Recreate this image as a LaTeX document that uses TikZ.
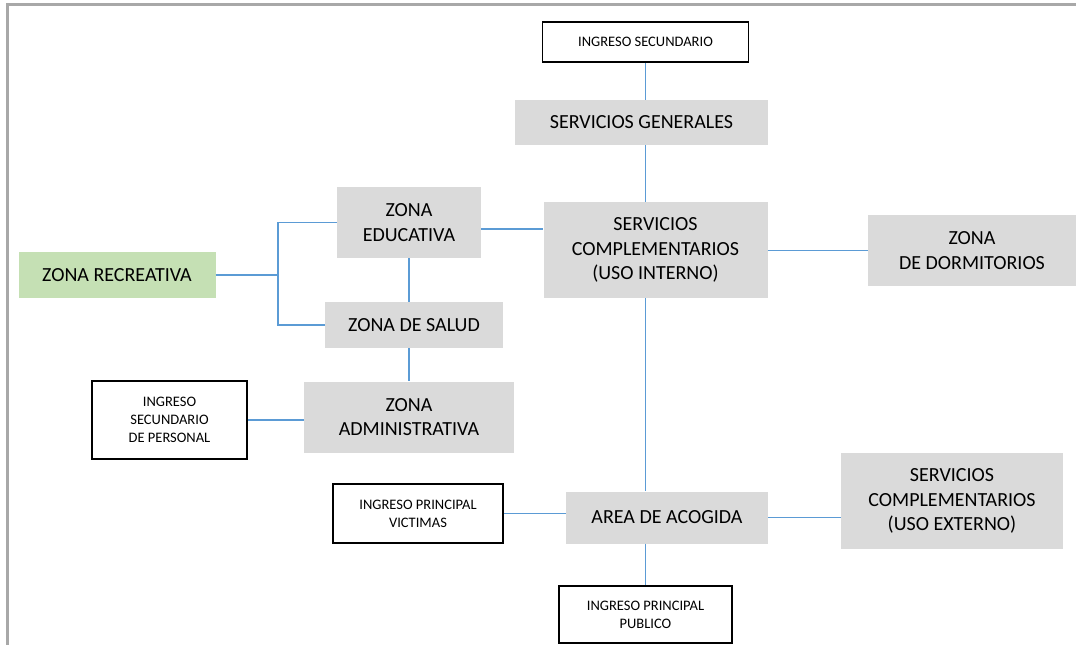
\documentclass[tikz,border=0pt]{standalone}
\usepackage{fontspec}
\setmainfont{Carlito}
\usetikzlibrary{calc}

\definecolor{gris}{HTML}{DADADA}
\definecolor{verde}{HTML}{C5E0B4}
\definecolor{azul}{HTML}{5B9BD5}
\definecolor{borde}{HTML}{A8A8A8}

\tikzset{
    zona/.style={fill=gris, inner sep=0pt, align=center,
        font=\fontsize{20}{24.4}\selectfont},
    ingreso/.style={draw=black, line width=1.8pt, fill=white, inner sep=0pt,
        align=center, font=\fontsize{14.5}{17.7}\selectfont},
    enlace/.style={draw=azul, line width=1.3pt}
}

\begin{document}
\begin{tikzpicture}[x=1pt,y=-1pt]
        \useasboundingbox (0,0) rectangle (1076,645);

        % Marco
        \draw[borde, line width=2.5pt] (7.5,645) |- (1076,4.5);

        % Ingresos
        \node[ingreso, minimum width=206, minimum height=40] (IS) at (645.5,42) {INGRESO SECUNDARIO};
        \node[ingreso, minimum width=155, minimum height=78] (ISP) at (169.5,420) {INGRESO\\SECUNDARIO\\DE PERSONAL};
        \node[ingreso, minimum width=170, minimum height=59] (IPV) at (418,513.5) {INGRESO PRINCIPAL\\VICTIMAS};
        \node[ingreso, minimum width=173, minimum height=57] (IPP) at (645.5,614.5) {INGRESO PRINCIPAL\\PUBLICO};

        % Zonas
        \node[zona, minimum width=253, minimum height=45] (SG) at (641.5,122.5) {SERVICIOS GENERALES};
        \node[zona, minimum width=224, minimum height=96] (SC) at (655.5,250) {SERVICIOS\\COMPLEMENTARIOS\\(USO INTERNO)};
        \node[zona, minimum width=208, minimum height=71] (DORM) at (972,250.5) {ZONA\\DE DORMITORIOS};
        \node[zona, minimum width=144, minimum height=71] (ZE) at (409,222.5) {ZONA\\EDUCATIVA};
        \node[zona, fill=verde, minimum width=197, minimum height=46] (ZR) at (117,275) {ZONA RECREATIVA};
        \node[zona, minimum width=178, minimum height=46] (ZS) at (414,325) {ZONA DE SALUD};
        \node[zona, minimum width=210, minimum height=71] (ZA) at (409,417) {ZONA\\ADMINISTRATIVA};
        \node[zona, minimum width=202, minimum height=52] (AREA) at (667,517.5) {AREA DE ACOGIDA};
        \node[zona, minimum width=222, minimum height=96] (SCE) at (952,501) {SERVICIOS\\COMPLEMENTARIOS\\(USO EXTERNO)};

        % Conexiones
        \draw[enlace] (IS.south) -- (IS.south |- SG.north);
        \draw[enlace] (SG.south -| IS) -- (SC.north -| IS);
        \draw[enlace] (SC.south -| IS) -- (AREA.north -| IS);
        \draw[enlace] (AREA.south -| IS) -- (IPP.north);

        \draw[enlace] ([yshift=-6.5pt]ZE.east) -- ([yshift=-6.5pt]ZE.east -| SC.west);
        \draw[enlace] (SC.east |- DORM.west) -- (DORM.west);

        \coordinate (rama) at (278,275);
        \draw[enlace] (ZR.east) -- (rama);
        \draw[enlace] (ZE.west) -| (rama |- ZS.west) -- (ZS.west);
        \draw[enlace] (ZE.south) -- (ZE.south |- ZS.north);
        \draw[enlace] (ZA.north |- ZS.south) -- (ZA.north);

        \draw[enlace] (ISP.east) -- (ISP.east -| ZA.west);
        \draw[enlace] (IPV.east) -- (IPV.east -| AREA.west);
        \draw[enlace] (AREA.east) -- (AREA.east -| SCE.west);
    \end{tikzpicture}
\end{document}
